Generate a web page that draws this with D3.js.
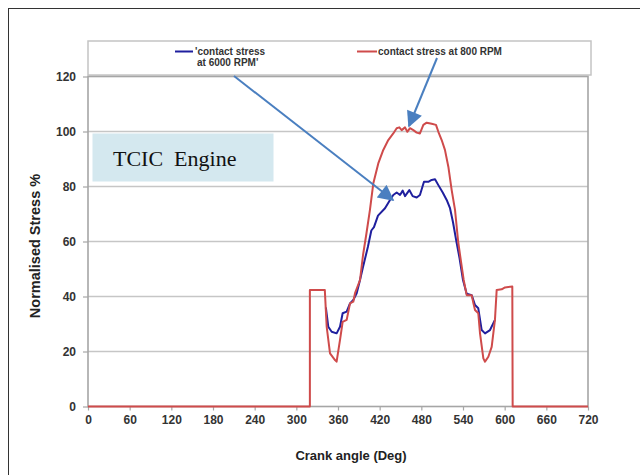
<!DOCTYPE html>
<html>
<head>
<meta charset="utf-8">
<script src="https://cdn.jsdelivr.net/npm/d3@7"></script>
<style>
  body { margin: 0; background: #fff; }
  svg { display: block; }
  .tick text { font-family: Arial, "Liberation Sans", sans-serif; font-weight: bold; font-size: 12px; fill: #333; }
</style>
</head>
<body>
<div id="chart"></div>
<script>
// crank angle / stress
var redAngle = [0, 319.5, 319.5, 341, 343.7, 348.5, 355.7, 358, 362.9, 366.7, 372.5, 377.3, 382, 384.5,
  391.7, 396, 401, 406, 410.9, 418, 425.2, 432.4, 439.6, 444.5, 448.3, 451.7, 456.5, 459.8, 463.7,
  468.5, 473.3, 478, 482.9, 487.7, 494.9, 501.1, 504.5, 509.3, 514, 518.9, 523.7, 528.5, 533, 537.5,
  541, 545.3, 552.5, 555, 557.3, 562, 564.5, 569.3, 571.7, 576.5, 581.3, 586, 588.5, 595.7, 600.5,
  611, 611.5, 720];
var redStress = [0, 0, 42.4, 42.4, 29, 19.3, 16.9, 16.3, 24.2, 30.8, 31.5, 37.5, 38.1, 41.2,
  46, 55, 63, 71.5, 81.2, 88.4, 93.3, 96.9, 99.3, 101.2, 101.5, 100.5, 101.5, 99.9, 101.2,
  100.5, 99.6, 99.3, 102.4, 103.2, 102.8, 102.4, 99.9, 96.9, 93.3, 87.2, 78.7, 71.5, 60, 52,
  46, 40.5, 40.5, 37.5, 35.1, 33.9, 26.6, 17.5, 16.3, 18.1, 21.7, 31.5, 42.4, 42.6, 43.3,
  43.6, 0, 0];

var blueAngle = [342.5, 346, 350.9, 358, 362.9, 366.7, 372.5, 377.3, 382, 386.9, 391.7, 396, 403, 408,
  411.8, 417.6, 427.7, 434.9, 439.6, 444.5, 449.3, 453.2, 456.5, 462.7, 467.5, 473.3, 478, 483.8,
  490, 494.9, 499.7, 504.5, 510.8, 516.5, 521.3, 525.6, 530.5, 535, 540, 545.3, 552.5, 557.3, 562,
  566.9, 571.7, 578.9, 583.7, 586];
var blueStress = [36, 29, 27.2, 26.6, 29, 33.9, 34.5, 37.5, 38.7, 41.2, 46, 50.7, 58, 64,
  65.2, 69.4, 72.1, 75.1, 76.9, 77.8, 76.9, 78.5, 76.5, 78.7, 76.5, 76, 76.9, 81.7,
  81.7, 82.4, 82.6, 80.5, 77.8, 75.1, 72.1, 67, 60, 54, 46, 41, 40.5, 36.9, 35.7,
  27.8, 26.6, 27.8, 30.3, 31.5];

var xTicks = [0, 60, 120, 180, 240, 300, 360, 420, 480, 540, 600, 660, 720];
var yTicks = [0, 20, 40, 60, 80, 100, 120];

var legendNames = ["'contact stress", "at 6000 RPM'", "contact stress at 800 RPM"];

function drawChart(){

    var width = 640,
        height = 475;

    var svg = d3.select('#chart')
        .append('svg')
        .attr('width', width)
        .attr('height', height);

    // outer frame
    svg.append('rect')
        .attr('x', 8.5).attr('y', 8.5)
        .attr('width', 700).attr('height', 600)
        .attr('fill', 'none')
        .attr('stroke', '#333')
        .attr('stroke-width', 1);

    var x = d3.scaleLinear().domain([0, 720]).range([88, 588]);
    var y = d3.scaleLinear().domain([0, 120]).range([406.5, 76.5]);

    // legend box above the plot
    svg.append('rect')
        .attr('x', 88).attr('y', 41)
        .attr('width', 503).attr('height', 34)
        .attr('fill', '#fff')
        .attr('stroke', '#c4c4c4')
        .attr('stroke-width', 1.5);

    //horizontal gridlines
    svg.append('g')
        .selectAll('line')
        .data(yTicks.filter(function(d){ return d > 0 && d < 120; }))
        .enter()
        .append('line')
        .attr('x1', x(0)).attr('x2', x(720))
        .attr('y1', function(d){ return y(d); })
        .attr('y2', function(d){ return y(d); })
        .attr('stroke', '#c6c6c6')
        .attr('stroke-width', 1.5);

    // plot border
    svg.append('rect')
        .attr('x', x(0)).attr('y', y(120))
        .attr('width', x(720) - x(0)).attr('height', y(0) - y(120))
        .attr('fill', 'none')
        .attr('stroke', '#a6a6a6')
        .attr('stroke-width', 1.6);

    // axes
    var yAxis = svg.append('g')
        .attr('transform', 'translate(' + x(0) + ',0)')
        .call(d3.axisLeft(y).tickValues(yTicks).tickSize(5).tickPadding(7));
    yAxis.select('.domain').remove();
    yAxis.selectAll('.tick line').attr('stroke', '#a6a6a6').attr('stroke-width', 1.2);

    var xAxis = svg.append('g')
        .attr('transform', 'translate(0,' + y(0) + ')')
        .call(d3.axisBottom(x).tickValues(xTicks).tickSize(4).tickPadding(5));
    xAxis.select('.domain').remove();
    xAxis.selectAll('.tick line').attr('stroke', '#a6a6a6').attr('stroke-width', 1.2);

    // axis titles
    svg.append('text')
        .attr('x', 351).attr('y', 460)
        .attr('text-anchor', 'middle')
        .style('font-family', 'Arial, "Liberation Sans", sans-serif')
        .style('font-weight', 'bold')
        .style('font-size', '13px')
        .style('fill', '#222')
        .text('Crank angle (Deg)');

    svg.append('text')
        .attr('transform', 'translate(40,246) rotate(-90)')
        .attr('text-anchor', 'middle')
        .style('font-family', 'Arial, "Liberation Sans", sans-serif')
        .style('font-weight', 'bold')
        .style('font-size', '14.5px')
        .style('fill', '#222')
        .text('Normalised Stress %');

    // TCIC label box
    svg.append('rect')
        .attr('x', 92.5).attr('y', 133.5)
        .attr('width', 181).attr('height', 48)
        .attr('fill', '#d4e8ef');
    svg.append('text')
        .attr('x', 113).attr('y', 166)
        .attr('xml:space', 'preserve')
        .style('white-space', 'pre')
        .style('font-family', '"Liberation Serif", "DejaVu Serif", serif')
        .style('font-size', '22px')
        .style('fill', '#111')
        .text('TCIC  Engine');

    //series lines
    var line = d3.line()
        .x(function(d){ return x(d[0]); })
        .y(function(d){ return y(d[1]); });

    var blueData = blueAngle.map(function(a, i){ return [a, blueStress[i]]; });
    var redData = redAngle.map(function(a, i){ return [a, redStress[i]]; });

    svg.append('path')
        .datum(blueData)
        .attr('d', line)
        .attr('fill', 'none')
        .attr('stroke', '#1f1f9e')
        .attr('stroke-width', 2)
        .attr('stroke-linejoin', 'round');

    svg.append('path')
        .datum(redData)
        .attr('d', line)
        .attr('fill', 'none')
        .attr('stroke', '#cf4b4b')
        .attr('stroke-width', 2)
        .attr('stroke-linejoin', 'round');

    // legend entries
    var lg = svg.append('g')
        .style('font-family', 'Arial, "Liberation Sans", sans-serif')
        .style('font-weight', 'bold')
        .style('font-size', '10px')
        .style('fill', '#333');

    lg.append('line')
        .attr('x1', 175).attr('x2', 193).attr('y1', 51.5).attr('y2', 51.5)
        .attr('stroke', '#1f1f9e').attr('stroke-width', 2);
    lg.append('text').attr('x', 195).attr('y', 55).text(legendNames[0]);
    lg.append('text').attr('x', 197).attr('y', 65.5).text(legendNames[1]);

    lg.append('line')
        .attr('x1', 357).attr('x2', 377).attr('y1', 51.5).attr('y2', 51.5)
        .attr('stroke', '#cf4b4b').attr('stroke-width', 2);
    lg.append('text').attr('x', 378).attr('y', 55).text(legendNames[2]);

    // annotation arrows
    svg.append('defs').append('marker')
        .attr('id', 'head')
        .attr('viewBox', '0 0 10 10')
        .attr('refX', 9).attr('refY', 5)
        .attr('markerWidth', 9).attr('markerHeight', 8)
        .attr('markerUnits', 'strokeWidth')
        .attr('orient', 'auto')
        .append('path')
        .attr('d', 'M0,0 L10,5 L0,10 z')
        .attr('fill', '#4a7fc0');

    svg.append('line')
        .attr('x1', 234).attr('y1', 76)
        .attr('x2', 393).attr('y2', 200)
        .attr('stroke', '#4a7fc0').attr('stroke-width', 2)
        .attr('marker-end', 'url(#head)');

    svg.append('line')
        .attr('x1', 437).attr('y1', 58)
        .attr('x2', 409).attr('y2', 126)
        .attr('stroke', '#4a7fc0').attr('stroke-width', 2)
        .attr('marker-end', 'url(#head)');
}

window.onload = drawChart();
</script>
</body>
</html>
